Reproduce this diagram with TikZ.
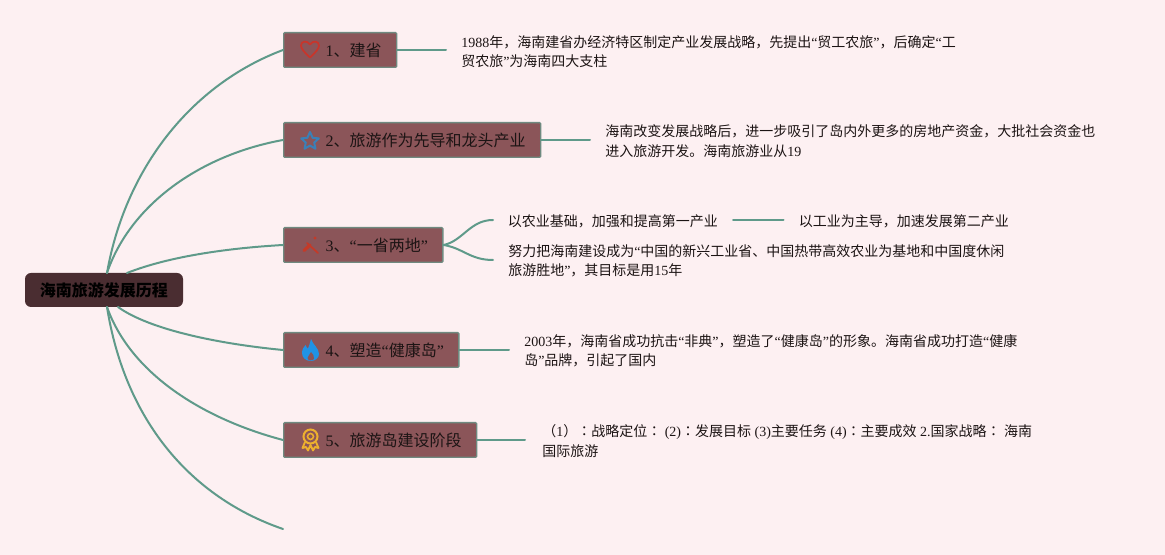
\documentclass[tikz,border=0pt]{standalone}
\usepackage{fontspec}
\setmainfont{Liberation Serif}
\newfontfamily\cjk{Noto Sans CJK SC}
\newfontfamily\cjktc{Noto Sans CJK TC}
\newcommand{\zh}[1]{{\cjk #1}}
\newcommand{\colonzh}{{\cjktc ：}}
\newcommand{\boxtxt}[1]{\hspace*{31.5pt}\raisebox{-1pt}{#1}\hspace*{11.25pt}\null}
\definecolor{bgc}{HTML}{FDF0F2}
\definecolor{linkc}{HTML}{5F9A8A}
\definecolor{boxc}{HTML}{8B5559}
\definecolor{boxb}{HTML}{6F8A80}
\definecolor{rootc}{HTML}{4A2D31}
\definecolor{inkc}{HTML}{1C1414}
\definecolor{heartc}{HTML}{C8352B}
\definecolor{starc}{HTML}{3A80B8}
\definecolor{pickc}{HTML}{C43A28}
\definecolor{flamec}{HTML}{2093E6}
\definecolor{medalc}{HTML}{EDB02E}
\tikzset{
  link/.style={draw=linkc,line width=1.5pt,line cap=round},
  topicbox/.style={draw=boxb,fill=boxc,line width=1pt,rounded corners=0.8pt,inner xsep=0pt,inner ysep=0pt,minimum height=26pt,text=inkc,font=\fontsize{12}{14}\selectfont,anchor=west},
  rootbox/.style={fill=rootc,rounded corners=4.5pt,minimum width=118.5pt,minimum height=25.5pt,inner sep=0pt,text=black,font=\fontsize{12}{14}\selectfont\bfseries},
  note/.style={align=left,anchor=west,inner sep=0pt,text=inkc,font=\fontsize{10.5}{14.6}\selectfont},
}
\begin{document}
\begin{tikzpicture}[x=0.75pt,y=-0.75pt]
\useasboundingbox (0,0) rectangle (1165,555);
\fill[bgc] (0,0) rectangle (1165,555);

\node[rootbox] (root) at (104,290) {\raisebox{-0.6pt}{\zh{海南旅游发展历程}}};
\node[topicbox,minimum width=84pt] (n1) at (283,50) {\boxtxt{1\zh{、建省}}};
\node[topicbox,minimum width=192pt] (n2) at (283,140) {\boxtxt{2\zh{、旅游作为先导和龙头产业}}};
\node[topicbox,minimum width=119.25pt] (n3) at (283,245) {\boxtxt{3\zh{、}“\zh{一省两地}”}};
\node[topicbox,minimum width=131.25pt] (n4) at (283,350) {\boxtxt{4\zh{、塑造}“\zh{健康岛}”}};
\node[topicbox,minimum width=144pt] (n5) at (283,440) {\boxtxt{5\zh{、旅游岛建设阶段}}};

\coordinate (ru) at (107,273);
\coordinate (ru3) at (127,273);
\coordinate (rd4) at (118,307);
\coordinate (rd) at (107,307);
\coordinate (tail) at (283,529);
\coordinate (e1) at (446,50);
\coordinate (e2) at (590,140);
\coordinate (e3a) at (493,220);
\coordinate (e3c) at (493,260);
\coordinate (e4) at (509,350);
\coordinate (e5) at (525,440);

\node[note] (t1) at (461,51.5) {1988\zh{年，海南建省办经济特区制定产业发展战略，先提出}“\zh{贸工农旅}”\zh{，后确定}“\zh{工}\\\zh{贸农旅}”\zh{为海南四大支柱}};
\node[note] (t2) at (605,141) {\zh{海南改变发展战略后，进一步吸引了岛内外更多的房地产资金，大批社会资金也}\\\zh{进入旅游开发。海南旅游业从}19};
\node[note] (t3a) at (507.5,221) {\zh{以农业基础，加强和提高第一产业}};
\node[note] (t3b) at (798.5,221) {\zh{以工业为主导，加速发展第二产业}};
\node[note] (t3c) at (508,261) {\zh{努力把海南建设成为}“\zh{中国的新兴工业省、中国热带高效农业为基地和中国度休闲}\\\zh{旅游胜地}”\zh{，其目标是用}15\zh{年}};
\node[note] (t4) at (524,351) {2003\zh{年，海南省成功抗击}“\zh{非典}”\zh{，塑造了}“\zh{健康岛}”\zh{的形象。海南省成功打造}“\zh{健康}\\\zh{岛}”\zh{品牌，引起了国内}};
\node[note] (t5) at (542,441) {\zh{（}1\zh{）}\colonzh\zh{战略定位}\colonzh{} (2)\colonzh\zh{发展目标} (3)\zh{主要任务} (4)\colonzh\zh{主要成效} 2.\zh{国家战略}\colonzh{} \zh{海南}\\\zh{国际旅游}};

\draw[link] (ru) .. controls (125,170) and (190,85) .. (n1.west);
\draw[link] (ru) .. controls (130,205) and (200,155) .. (n2.west);
\draw[link] (ru3) .. controls (170,256) and (230,248) .. (n3.west);
\draw[link] (rd4) .. controls (150,330) and (220,344) .. (n4.west);
\draw[link] (rd) .. controls (130,372) and (200,418) .. (n5.west);
\draw[link] (rd) .. controls (125,420) and (190,497) .. (tail);

\draw[link] (n1.east) -- (e1);
\draw[link] (n2.east) -- (e2);
\draw[link] (n3.east) .. controls (463,241) and (470,220) .. (e3a);
\draw[link] (n3.east) .. controls (463,248) and (470,260) .. (e3c);
\draw[link] (n4.east) -- (e4);
\draw[link] (n5.east) -- (e5);
\draw[link] ([xshift=11.25pt,yshift=1pt]t3a.east) -- ([xshift=-11.25pt,yshift=1pt]t3b.west);

% icons
\draw[draw=heartc,line width=1.3pt,line join=round]
  (310,57.5) .. controls (304,52) and (301,48.5) .. (301,45.5)
  .. controls (301,41) and (307,40) .. (310,44.5)
  .. controls (313,40) and (319,41) .. (319,45.5)
  .. controls (319,48.5) and (316,52) .. (310,57.5) -- cycle;
\draw[draw=starc,line width=1.5pt,line join=round]
  (310,132) -- (312.6,137.8) -- (318.8,138.4) -- (314.2,142.6) -- (315.5,148.8)
  -- (310,145.6) -- (304.5,148.8) -- (305.8,142.6) -- (301.2,138.4) -- (307.4,137.8) -- cycle;
\draw[pickc,line width=1.3pt,line cap=round] (307,243) -- (318,253);
\draw[pickc,line width=2.4pt,line cap=round] (304,250.5) -- (310,245);
\fill[pickc] (315,238) circle (1.6);
\fill[flamec] (311,339)
  .. controls (313,345) and (319,348) .. (319,354)
  .. controls (319,358) and (315,361) .. (311,361)
  .. controls (306,361) and (302,358) .. (302,353)
  .. controls (302,349) and (304,347) .. (305.5,345)
  .. controls (306.5,347) and (307,348) .. (308,348.5)
  .. controls (309,346) and (310,343) .. (311,339) -- cycle;
\fill[boxc] (311,352) .. controls (312.5,354) and (315,356) .. (314,359)
  .. controls (312,361) and (308,361) .. (307.5,358) .. controls (307.5,356) and (310,355) .. (311,352) -- cycle;
\draw[draw=medalc,line width=1.5pt] (310.5,436.5) circle (7);
\draw[draw=medalc,line width=1.2pt] (310.5,436.5) circle (3);
\draw[draw=medalc,line width=1.4pt,line join=round] (305,442) -- (302.5,448) -- (306,447) -- (308,450.5) -- (310.5,445) -- (313,450.5) -- (315,447) -- (318.5,448) -- (316,442);
\end{tikzpicture}
\end{document}
